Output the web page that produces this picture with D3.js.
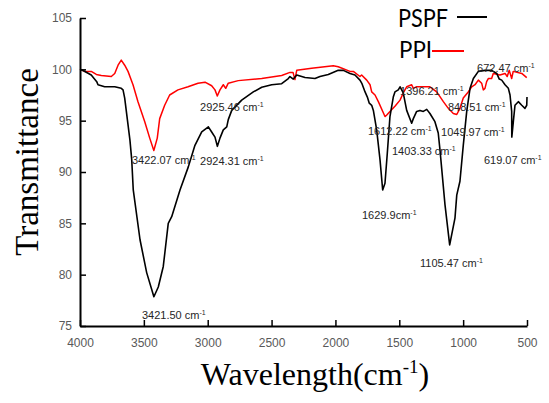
<!DOCTYPE html>
<html><head><meta charset="utf-8">
<script src="https://cdn.jsdelivr.net/npm/d3@7"></script>
<style>body{margin:0;background:#fff}svg{display:block}</style>
</head><body>
<svg id="c" width="549" height="403"></svg>
<script>
// ---- data ----
const xTicks = [4000, 3500, 3000, 2500, 2000, 1500, 1000, 500];
const yTicks = [75, 80, 85, 90, 95, 100, 105];
const seriesNames = ["PSPF", "PPI"];
const pspfWn = [4000,3969,3912,3869,3859,3807,3728,3677,3663,3650,3609,3595,3583,3530,3478,3421.5,3387,3348,3309,3282,3217,3152,3100,3047,2995,2969,2943,2924.3,2904,2878,2851,2839,2812,2734,2643,2577,2499,2421,2369,2356,2330,2303,2238,2160,2121,2056,1978,1938,1886,1847,1808,1792,1768,1750,1735,1716,1703,1677,1651,1630,1612,1594,1573,1547,1534,1508,1494,1481,1469,1442,1403,1390,1364,1338,1312,1285,1260,1221,1195,1181,1142,1105.5,1064,1050,1025,999,972,946,920,881,829,777,737,717,698,672,646,633,620,619,607,594,568,541,516,502,500];
const pspfT = [100.0,99.84,99.45,98.8,98.5,98.3,98.3,98.15,98.0,97.2,93.1,91.2,88.25,83.4,80.2,77.85,78.8,80.8,85.0,85.65,88.25,90.5,92.6,93.9,94.4,93.9,93.4,92.5,93.3,94.1,94.4,95.1,96.0,97.0,97.8,98.25,98.5,98.6,99.1,99.3,99.05,99.45,99.2,99.1,99.3,99.5,99.9,99.9,99.6,99.45,98.95,98.6,97.8,97.3,96.7,96.5,96.0,94.1,91.2,88.25,88.9,91.8,95.4,97.3,97.8,98.0,98.3,98.0,97.7,96.0,94.75,95.2,95.9,96.0,95.9,96.1,95.7,94.9,93.8,92.1,86.8,82.9,85.5,87.75,89.1,92.6,95.9,98.15,99.1,99.8,99.9,99.9,99.6,99.05,98.95,98.5,98.15,97.5,95.9,93.4,94.9,96.5,96.85,96.5,96.2,96.5,97.3];
const ppiWn = [4000,3963,3912,3872,3833,3755,3728,3702,3677,3650,3624,3585,3546,3493,3454,3422,3395,3376,3337,3298,3233,3154,3076,3021,2969,2943,2925,2904,2878,2859,2839,2761,2577,2421,2356,2332,2317,2303,2186,2017,1978,1886,1860,1808,1795,1755,1729,1716,1690,1664,1612,1598,1573,1534,1494,1469,1442,1403,1390,1364,1260,1207,1155,1116,1077,1050,1025,999,960,933,907,881,855,842,829,816,803,777,764,712,672,655,639,620,608,541,502];
const ppiT = [100.0,99.8,99.8,99.5,99.4,99.3,99.6,100.4,100.9,100.4,99.8,98.5,96.85,94.9,93.3,92.1,93.3,95.2,96.5,97.5,98.0,98.3,98.65,98.75,98.4,98.0,97.4,98.0,98.5,98.15,98.65,98.9,99.1,99.4,99.7,99.7,99.0,99.9,100.1,100.35,100.25,99.8,99.8,99.3,99.45,98.95,98.5,97.8,97.5,96.85,95.4,95.55,95.9,96.4,97.0,97.7,98.3,98.5,98.15,98.3,98.3,97.8,96.85,96.2,95.7,95.6,96.2,97.2,97.8,98.3,98.5,98.95,98.65,98.0,98.15,98.8,99.1,99.1,99.6,99.45,99.6,99.3,99.9,99.1,99.8,99.6,99.2];
const labelTexts = ["3422.07 cm","2924.31 cm","2925.46 cm","3421.50 cm","1629.9cm","1105.47 cm","1396.21 cm","848.51 cm","1612.22 cm","1049.97 cm","1403.33 cm","619.07 cm","672.47 cm"];
const labelWn = [3593,3060,3060,3515,1792,1338,1494,1119,1745,1173,1557,837,891];
const labelT = [90.78,90.68,95.94,75.68,85.42,80.75,97.5,95.94,93.6,93.5,91.66,90.78,99.74];

// ---- chart ----
const svg = d3.select("#c");
const x = d3.scaleLinear().domain([4000, 500]).range([80, 527]);
const y = d3.scaleLinear().domain([75, 105]).range([326, 18]);
const colors = ["#000000", "#ff0000"];

const line = d3.line().x(d => x(d[0])).y(d => y(d[1]));
const pspf = d3.zip(pspfWn, pspfT);
const ppi = d3.zip(ppiWn, ppiT);

// PPI drawn first, PSPF on top where they overlap near 4000
svg.append("path").datum(ppi).attr("d", line).attr("fill", "none")
  .attr("stroke", colors[1]).attr("stroke-width", 1.5).attr("stroke-linejoin", "round");
svg.append("path").datum(pspf).attr("d", line).attr("fill", "none")
  .attr("stroke", colors[0]).attr("stroke-width", 1.6).attr("stroke-linejoin", "round");

// axes
const xAxis = svg.append("g").attr("transform", "translate(0,326)")
  .call(d3.axisBottom(x).tickValues(xTicks).tickSizeInner(-6).tickSizeOuter(0).tickPadding(12).tickFormat(d3.format("d")));
const yAxis = svg.append("g").attr("transform", "translate(80,0)")
  .call(d3.axisLeft(y).tickValues(yTicks).tickSizeInner(-6).tickSizeOuter(0).tickPadding(8));
[xAxis, yAxis].forEach(g => {
  g.select(".domain").attr("stroke", "#000").attr("stroke-width", 2);
  g.selectAll(".tick line").attr("stroke", "#000").attr("stroke-width", 1.5);
  g.selectAll(".tick text").attr("fill", "#595959").style("font-size", "12px")
    .style("font-family", "'Liberation Sans', Arial, sans-serif");
});

// peak labels
const lab = svg.append("g").style("font-family", "'Liberation Sans', Arial, sans-serif")
  .style("font-size", "11px").attr("fill", "#262626");
labelTexts.forEach((t, i) => {
  const tx = lab.append("text").attr("x", x(labelWn[i])).attr("y", y(labelT[i]));
  tx.append("tspan").text(t);
  tx.append("tspan").attr("dy", -4).style("font-size", "7px").text("-1");
});

// axis titles
svg.append("text").attr("transform", "translate(38,162) rotate(-90)")
  .attr("text-anchor", "middle").style("font-family", "'Liberation Serif', 'Times New Roman', serif")
  .style("font-size", "33px").attr("fill", "#000").text("Transmittance");
const xt = svg.append("text").attr("x", 315).attr("y", 385).attr("text-anchor", "middle")
  .style("font-family", "'Liberation Serif', 'Times New Roman', serif").style("font-size", "32px").attr("fill", "#000");
xt.append("tspan").text("Wavelength(cm");
xt.append("tspan").attr("dy", -12).style("font-size", "19px").text("-1");
xt.append("tspan").attr("dy", 12).text(")");

// legend
const leg = svg.append("g").style("font-family", "Lato, 'Liberation Sans', sans-serif").attr("fill", "#000");
leg.append("text").attr("x", 398).attr("y", 27).style("font-size", "25px")
  .attr("textLength", 50).attr("lengthAdjust", "spacingAndGlyphs").text(seriesNames[0]);
leg.append("line").attr("x1", 457).attr("x2", 487).attr("y1", 17).attr("y2", 17)
  .attr("stroke", colors[0]).attr("stroke-width", 2);
leg.append("text").attr("x", 399).attr("y", 58).style("font-size", "24px")
  .attr("textLength", 33).attr("lengthAdjust", "spacingAndGlyphs").text(seriesNames[1]);
leg.append("line").attr("x1", 432).attr("x2", 464).attr("y1", 51).attr("y2", 51)
  .attr("stroke", colors[1]).attr("stroke-width", 2);
</script>
</body></html>
